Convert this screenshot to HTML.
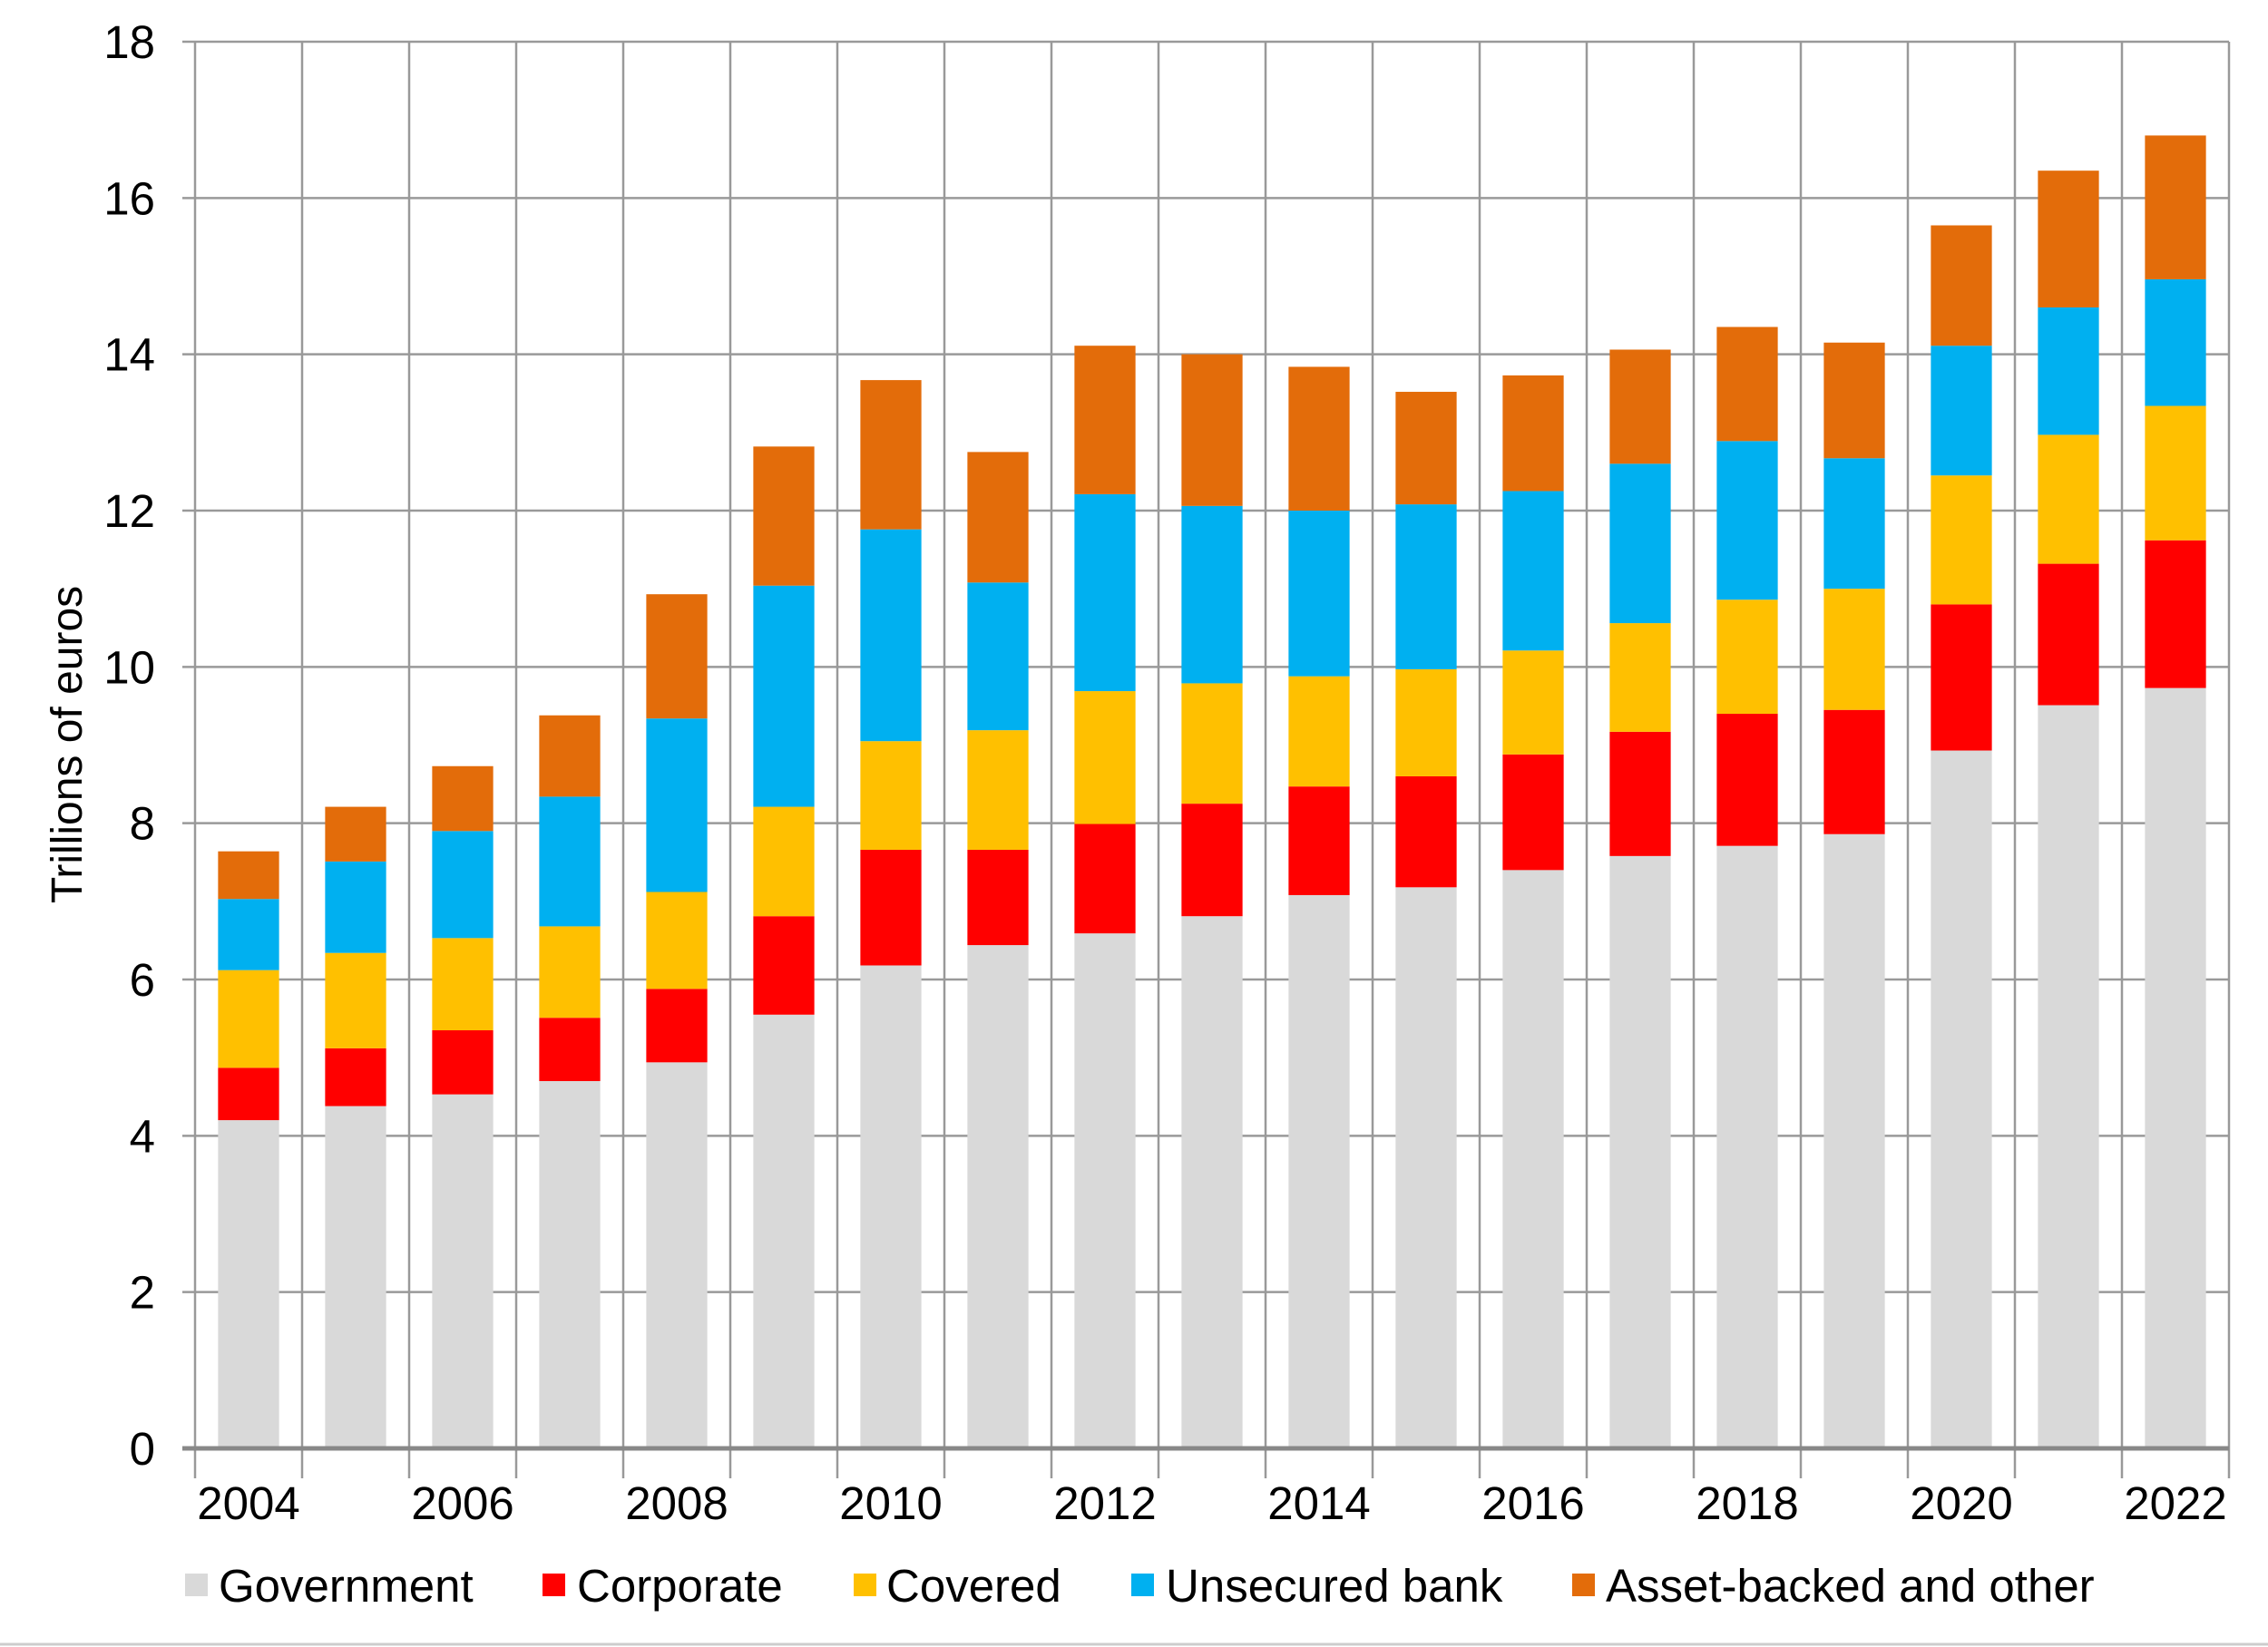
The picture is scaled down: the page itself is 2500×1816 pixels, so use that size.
<!DOCTYPE html>
<html><head><meta charset="utf-8"><style>
body{margin:0;background:#fff;}
svg{display:block;font-family:"Liberation Sans",Arial,sans-serif;}
</style></head><body>
<svg id="chart" width="2500" height="1816" xmlns="http://www.w3.org/2000/svg"></svg>
<script>
const years=[2004,2005,2006,2007,2008,2009,2010,2011,2012,2013,2014,2015,2016,2017,2018,2019,2020,2021,2022];
const government=[4.2,4.38,4.53,4.70,4.94,5.55,6.18,6.44,6.59,6.81,7.08,7.18,7.40,7.58,7.71,7.86,8.93,9.51,9.73];
const corporate=[0.67,0.74,0.82,0.81,0.94,1.26,1.48,1.22,1.40,1.44,1.39,1.42,1.48,1.59,1.69,1.59,1.87,1.81,1.89];
const covered=[1.25,1.22,1.18,1.17,1.24,1.40,1.39,1.53,1.70,1.54,1.41,1.37,1.33,1.39,1.46,1.55,1.65,1.65,1.72];
const unsecured=[0.91,1.17,1.37,1.66,2.22,2.83,2.71,1.89,2.52,2.27,2.12,2.11,2.04,2.04,2.03,1.67,1.66,1.63,1.62];
const assetBacked=[0.61,0.70,0.83,1.04,1.59,1.78,1.91,1.67,1.90,1.94,1.84,1.44,1.48,1.46,1.46,1.48,1.54,1.75,1.84];
const yTicks=[0,2,4,6,8,10,12,14,16,18];
const seriesNames=["Government","Corporate","Covered","Unsecured bank","Asset-backed and other"];

const colors=["#d9d9d9","#ff0000","#ffc000","#00b0f0","#e36c0a"];
const series=[government,corporate,covered,unsecured,assetBacked];
const X0=215,X1=2457,Y0=1597,Y18=46;
const band=(X1-X0)/years.length;
const y=v=>Y0-(v/18)*(Y0-Y18);
const xc=i=>X0+band*(i+0.5);
const svg=document.getElementById('chart');
const NS='http://www.w3.org/2000/svg';
function mk(tag,attrs,parent){const e=document.createElementNS(NS,tag);for(const k in attrs)e.setAttribute(k,attrs[k]);(parent||svg).appendChild(e);return e;}

yTicks.forEach(t=>{
  const l=mk('line',{x1:201,x2:X1,y1:y(t),y2:y(t),stroke:t===0?'#888':'#999','stroke-width':t===0?5:2.5});
  
  
  const tx=mk('text',{x:171,y:y(t)+18,'text-anchor':'end','font-size':51,fill:'#000'});
  tx.textContent=t;
  
  
});
for(let i=0;i<=years.length;i++){
  const l=mk('line',{x1:X0+band*i,x2:X0+band*i,y1:Y18,y2:1630,stroke:'#999','stroke-width':2.5});
  
  
}
const bw=band*0.57;
years.forEach((yr,i)=>{
  let cum=0;
  series.forEach((s,k)=>{
    const r=mk('rect',{x:xc(i)-bw/2,y:y(cum+s[i]),width:bw,height:y(cum)-y(cum+s[i]),fill:colors[k]});
    
    
    cum+=s[i];
  });
  if(i%2===0){
    const tx=mk('text',{x:xc(i),y:1675,'text-anchor':'middle','font-size':51,fill:'#000'});
    tx.textContent=yr;
    
    
  }
});
mk('line',{x1:201,x2:X1,y1:Y0,y2:Y0,stroke:'#888','stroke-width':5});
const yl=mk('text',{x:0,y:0,transform:'translate(90,821) rotate(-90)','text-anchor':'middle','font-size':48,fill:'#000'});
yl.textContent='Trillions of euros';


const lx=[[204,241],[598,636],[941,977],[1247,1285],[1733,1770]];
seriesNames.forEach((n,k)=>{
  const g=mk('g',{});
  
  
  mk('rect',{x:lx[k][0],y:1735,width:25,height:25,fill:colors[k]},g);
  const t=mk('text',{x:lx[k][1],y:1766,'font-size':51,fill:'#000'},g);
  t.textContent=n;
});
mk('line',{x1:0,x2:2500,y1:1813,y2:1813,stroke:'#ccc','stroke-width':3});
</script>
</body></html>
